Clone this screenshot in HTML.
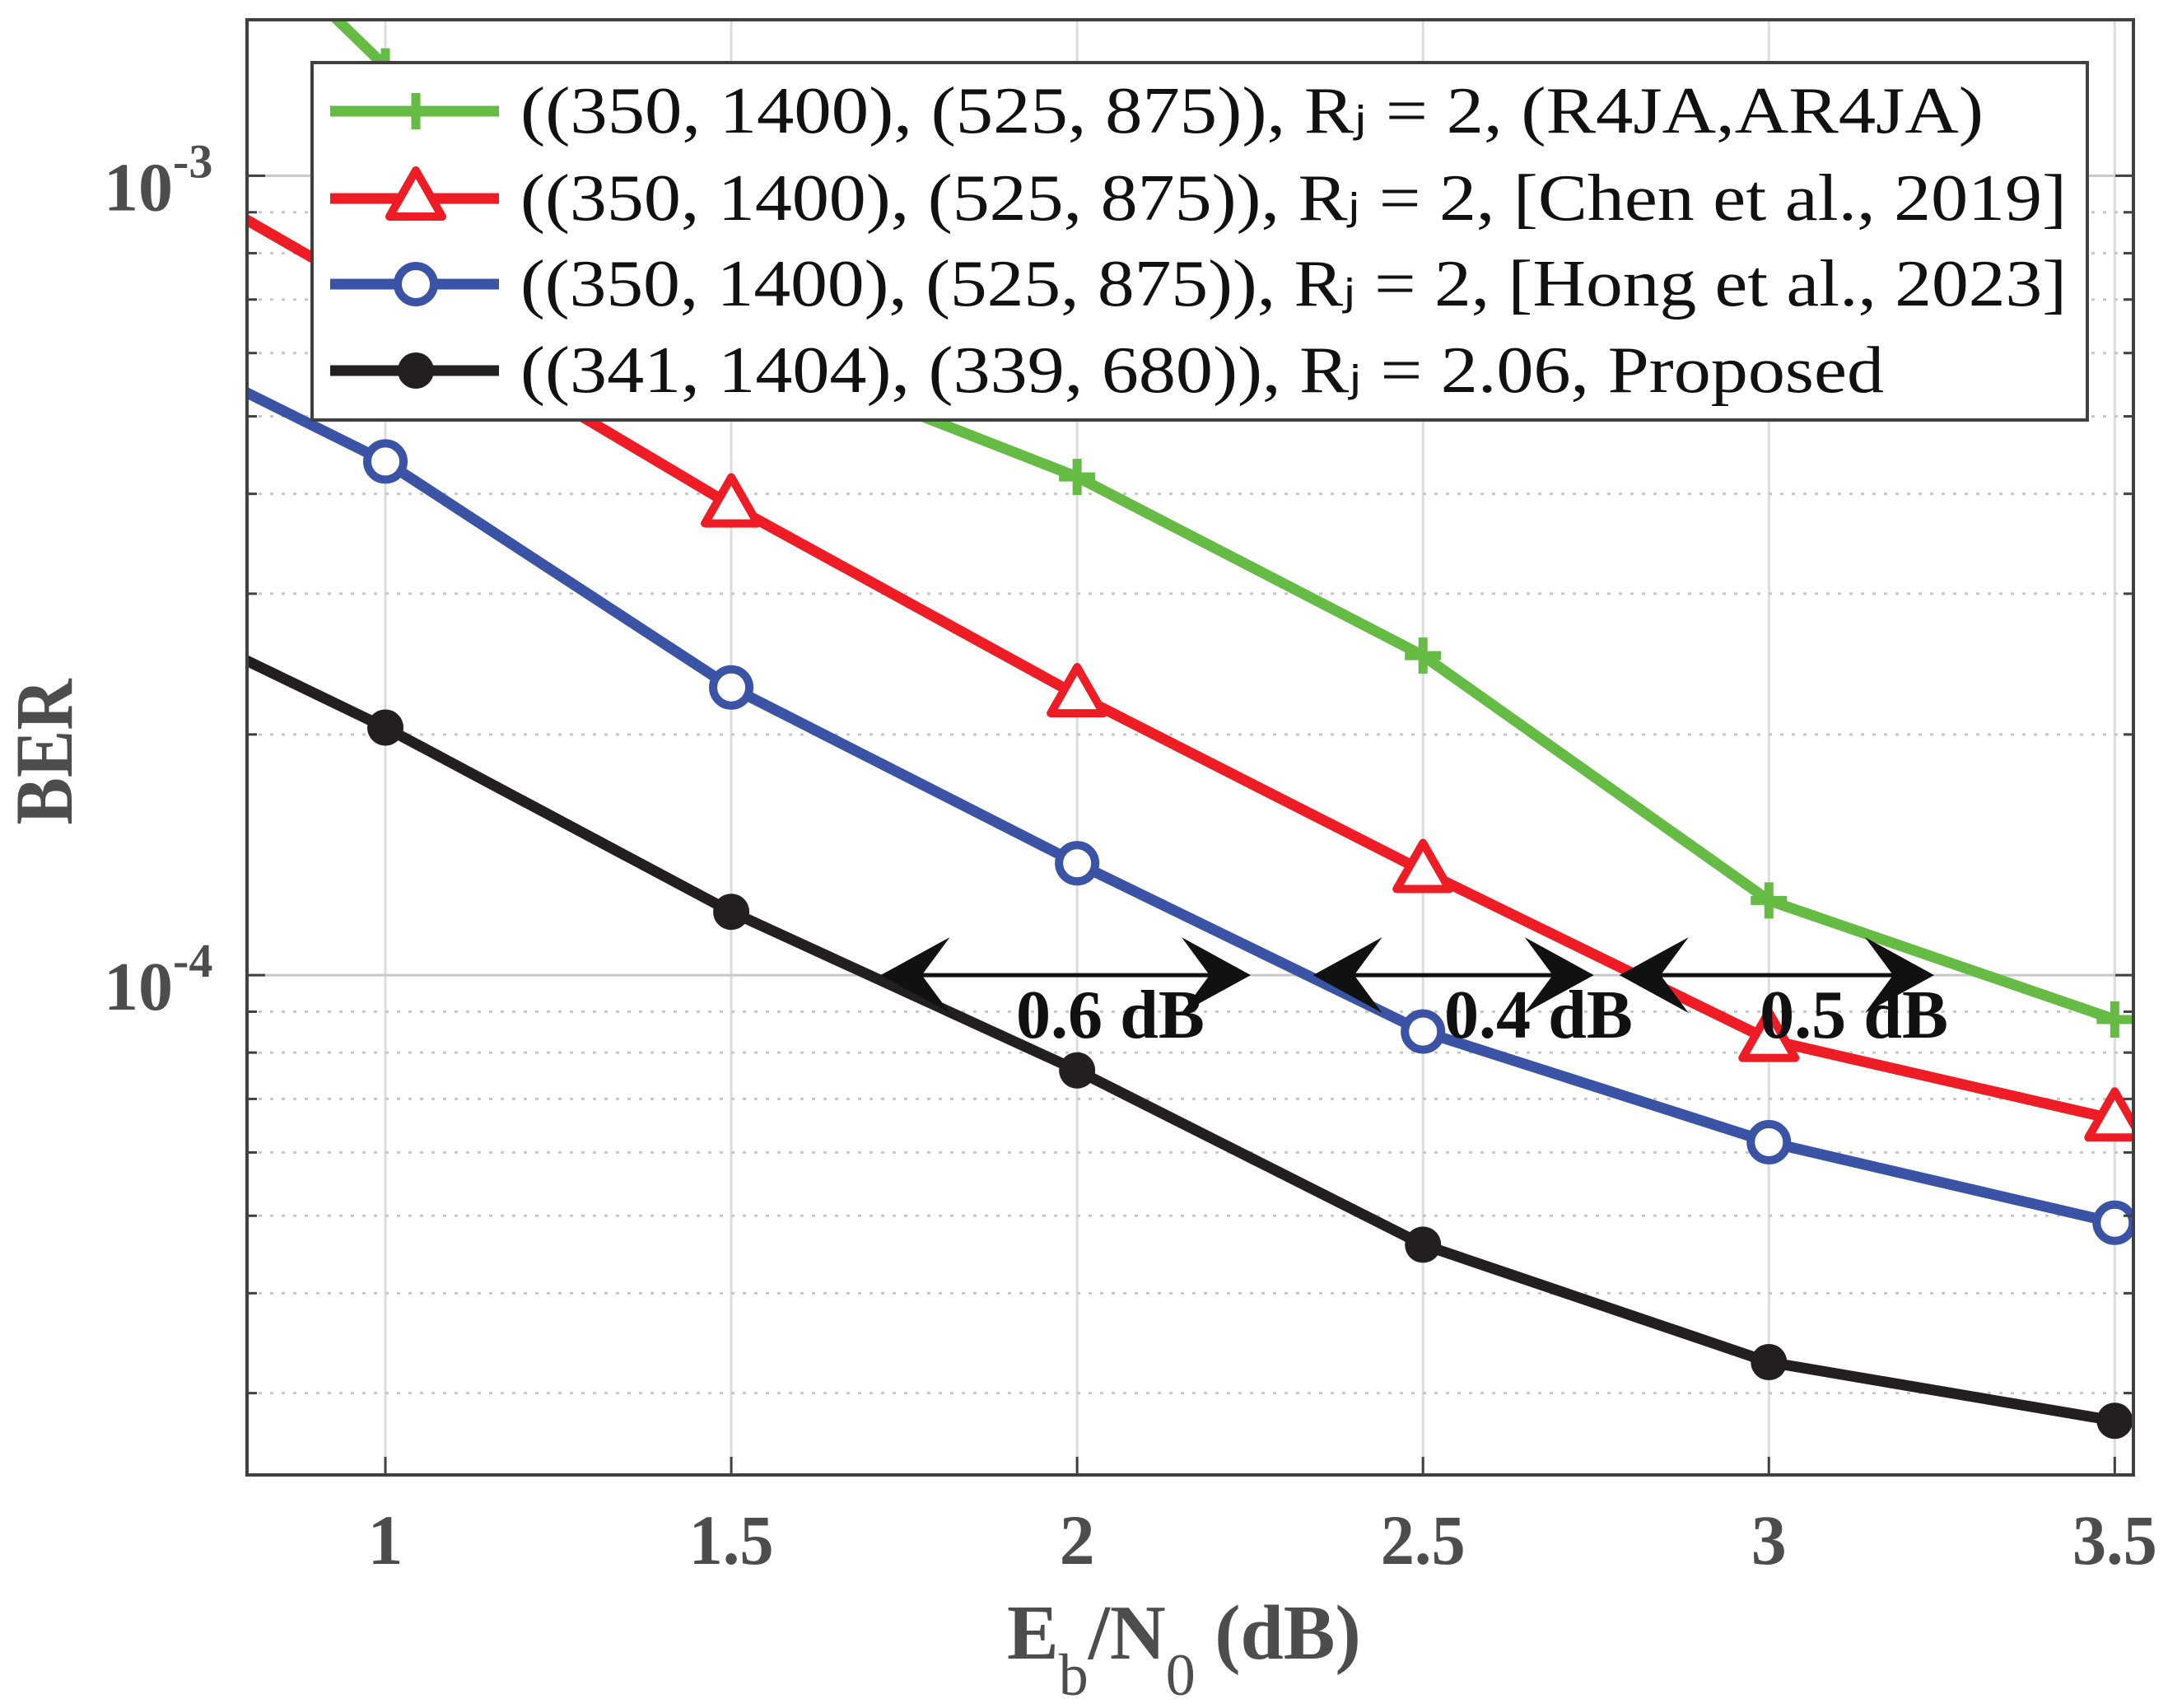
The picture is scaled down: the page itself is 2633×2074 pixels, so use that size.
<!DOCTYPE html>
<html><head><meta charset="utf-8"><style>
html,body{margin:0;padding:0;background:#fff;}
svg{display:block;}
</style></head><body>
<svg id="chart" width="2633" height="2074" viewBox="0 0 2633 2074" xmlns="http://www.w3.org/2000/svg">
<defs><clipPath id="plotclip"><rect x="300" y="24" width="2291" height="1767"/></clipPath></defs>
<g id="grid"></g>
<g id="series" clip-path="url(#plotclip)"></g>
<g id="annot"></g>
<rect x="300" y="24" width="2291" height="1767" fill="none" stroke="#404040" stroke-width="4"/>
<g id="axes"></g>
<g id="legend"></g>
</svg>
<script>
const xs = [0.5, 1, 1.5, 2, 2.5, 3, 3.5];
const greenVals = [3.6e-3, 1.37e-3, 6.2e-4, 4.2e-4, 2.51e-4, 1.24e-4, 8.8e-5];
const redVals = [1.24e-3, 7.0e-4, 3.87e-4, 2.24e-4, 1.35e-4, 8.3e-5, 6.6e-5];
const blueVals = [7.2e-4, 4.39e-4, 2.29e-4, 1.38e-4, 8.5e-5, 6.18e-5, 4.9e-5];
const blackVals = [3.3e-4, 2.04e-4, 1.20e-4, 7.6e-5, 4.6e-5, 3.28e-5, 2.77e-5];
const xTicks = [1, 1.5, 2, 2.5, 3, 3.5];
const xTickLabels = ["1", "1.5", "2", "2.5", "3", "3.5"];
const yTickExps = [-3, -4];
const legendLabels = [
 "((350, 1400), (525, 875)), R\u2c7c = 2, (R4JA,AR4JA)",
 "((350, 1400), (525, 875)), R\u2c7c = 2, [Chen et al., 2019]",
 "((350, 1400), (525, 875)), R\u2c7c = 2, [Hong et al., 2023]",
 "((341, 1404), (339, 680)), R\u2c7c = 2.06, Proposed"
];
const gapLabels = ["0.6 dB", "0.4 dB", "0.5 dB"];
const gapStarts = [1.716, 2.341, 2.784];
const gapEnds = [2.251, 2.747, 3.239];
const gapTextX = [2.048, 2.667, 3.123];

const X0=300, X1=2591, Y0=24, Y1=1791;
const xmin=0.8, xmax=3.527, lmin=Math.log10(2.37e-5), lmax=Math.log10(1.567e-3);
const sx = v => X0 + (v-xmin)/(xmax-xmin)*(X1-X0);
const sy = v => Y1 - (Math.log10(v)-lmin)/(lmax-lmin)*(Y1-Y0);
const NS="http://www.w3.org/2000/svg";
function mk(tag, attrs, parent){const e=document.createElementNS(NS,tag);for(const k in attrs)e.setAttribute(k,attrs[k]);parent.appendChild(e);return e;}
const grid=document.getElementById('grid'), series=document.getElementById('series'), axes=document.getElementById('axes'), legend=document.getElementById('legend'), annot=document.getElementById('annot');

for(const t of xTicks){const l=mk('line',{x1:sx(t),x2:sx(t),y1:Y0,y2:Y1,stroke:'#dcdcdc','stroke-width':3},grid);

}
for(let e=-5;e<=-3;e++){for(let m=1;m<=9;m++){const v=m*Math.pow(10,e);const y=sy(v);if(y<Y0||y>Y1)continue;
 const l=mk('line',{x1:X0,x2:X1,y1:y,y2:y,stroke:'#c8c8c8','stroke-width':3,'stroke-dasharray':m==1?'none':'4 10'},grid);
 
 
 const tk=mk('line',{x1:X0,x2:X0+(m==1?22:12),y1:y,y2:y,stroke:'#404040','stroke-width':3},axes);
 
 
 const tk2=mk('line',{x1:X1,x2:X1-(m==1?22:12),y1:y,y2:y,stroke:'#404040','stroke-width':3},axes);
 
 }}

xTicks.forEach((t,i)=>{const tk=mk('line',{x1:sx(t),x2:sx(t),y1:Y1,y2:Y1-22,stroke:'#404040','stroke-width':3},axes);
 
 
 const tx=mk('text',{x:sx(t),y:1899,'text-anchor':'middle','font-family':'Liberation Serif, serif','font-weight':'bold','font-size':86,fill:'#4d4d4d'},axes);
 tx.textContent=xTickLabels[i];
 if(xTickLabels[i].length>1){tx.setAttribute('textLength',103);tx.setAttribute('lengthAdjust','spacingAndGlyphs');}
 
 });
yTickExps.forEach(e=>{const y=sy(Math.pow(10,e));
 const tx=mk('text',{x:126,y:y+42,'font-family':'Liberation Serif, serif','font-weight':'bold','font-size':84,fill:'#4d4d4d'},axes);
 tx.textContent='10';
 const sp=mk('tspan',{dy:-40,'font-size':58},tx);sp.textContent=String(e);
 
 });
const yl=mk('text',{x:0,y:0,transform:'translate(87,913) rotate(-90)','text-anchor':'middle','font-family':'Liberation Serif, serif','font-weight':'bold','font-size':100,fill:'#4d4d4d',textLength:177,lengthAdjust:'spacingAndGlyphs'},axes);
yl.textContent='BER';


const xl=mk('text',{x:1223,y:2014,'font-family':'Liberation Serif, serif','font-weight':'bold','font-size':94,fill:'#4d4d4d'},axes);
xl.innerHTML='E<tspan dy="44" font-size="72" font-weight="normal">b</tspan><tspan dy="-44">/N</tspan><tspan dy="44" font-size="72" font-weight="normal">0</tspan><tspan dy="-44"> (dB)</tspan>';



function marker(kind,x,y,color,parent){
 let e;
 if(kind==='plus'){e=mk('path',{d:`M${x-22},${y}H${x+22}M${x},${y-22}V${y+22}`,stroke:color,'stroke-width':11,fill:'none'},parent);}
 else if(kind==='tri'){e=mk('path',{d:`M${x},${y-34}L${x+32},${y+22}L${x-32},${y+22}Z`,stroke:color,'stroke-width':10,fill:'#fff','stroke-linejoin':'round'},parent);}
 else if(kind==='circle'){e=mk('circle',{cx:x,cy:y,r:22,stroke:color,'stroke-width':10,fill:'#fff'},parent);}
 else {e=mk('circle',{cx:x,cy:y,r:22,fill:color},parent);}
 return e;}
const seriesDefs=[['green',greenVals,'#66bb44','plus'],['red',redVals,'#ee1c25','tri'],['blue',blueVals,'#3a53a4','circle'],['black',blackVals,'#231f20','dot']];
for(const [nm,vals,col,mkind] of seriesDefs.slice().reverse()){
 const g=mk('g',{},series);
 
 
 const pts=xs.map((x,i)=>sx(x)+','+sy(vals[i])).join(' ');
 const pl=mk('polyline',{points:pts,fill:'none',stroke:col,'stroke-width':13,'stroke-linejoin':'round'},g);
 
 
 xs.forEach((x,i)=>{const m=marker(mkind,sx(x),sy(vals[i]),col,g);
  
  });
}

const ay=sy(1e-4);
gapLabels.forEach((lab,i)=>{
 const a=sx(gapStarts[i]), b=sx(gapEnds[i]);
 const g=mk('g',{},annot);
 
 
 mk('line',{x1:a+20,x2:b-20,y1:ay,y2:ay,stroke:'#111','stroke-width':5},g);
 mk('path',{d:`M${a},${ay} L${a+84},${ay-46} L${a+50},${ay} L${a+84},${ay+46}Z`,fill:'#111'},g);
 mk('path',{d:`M${b},${ay} L${b-84},${ay-46} L${b-50},${ay} L${b-84},${ay+46}Z`,fill:'#111'},g);
 const t=mk('text',{x:sx(gapTextX[i]),y:ay+76,'text-anchor':'middle','font-family':'Liberation Serif, serif','font-weight':'bold','font-size':84,fill:'#111',textLength:229,lengthAdjust:'spacingAndGlyphs'},annot);
 t.textContent=lab;
 
 
});

const lb=mk('rect',{x:379,y:76,width:2156,height:434,fill:'#fff',stroke:'#404040','stroke-width':4},legend);


const ly=[135,241,345,450], lw=[1777,1878,1878,1656];
seriesDefs.forEach(([nm,vals,col,mkind],i)=>{
 const g=mk('g',{},legend);
 
 
 mk('line',{x1:401,x2:606,y1:ly[i],y2:ly[i],stroke:col,'stroke-width':13},g);
 marker(mkind,505,ly[i],col,g);
 const t=mk('text',{x:632,y:ly[i]+26,'font-family':'Liberation Serif, serif','font-size':80,fill:'#111',textLength:lw[i],lengthAdjust:'spacingAndGlyphs'},g);
 t.textContent=legendLabels[i];
});
</script>
</body></html>
